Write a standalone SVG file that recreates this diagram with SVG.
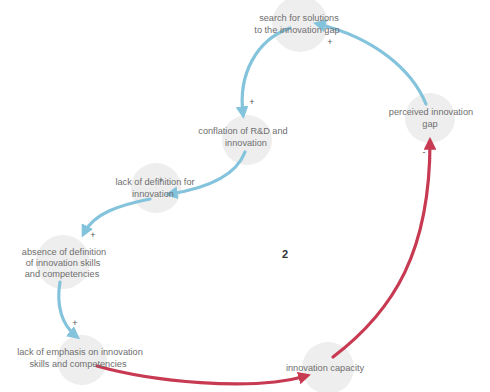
<svg xmlns="http://www.w3.org/2000/svg" width="490" height="392" viewBox="0 0 490 392">
  <defs>
    <style>
      .node circle { fill: #eeeeee; }
      .lbl { font-family: "Liberation Sans", Arial, sans-serif; font-size: 9.2px; fill: #6e6e6e; text-anchor: middle; }
      .sign { font-family: "Liberation Sans", Arial, sans-serif; font-size: 9px; fill: #555; text-anchor: middle; }
      .pos { fill: none; stroke: #84c3dc; stroke-width: 3.2; stroke-linecap: round; }
      .neg { fill: none; stroke: #c73a52; stroke-width: 3.2; stroke-linecap: round; }
    </style>
    <marker id="arrowPos" viewBox="0 0 10 10" refX="6" refY="5" markerWidth="4" markerHeight="4" orient="auto">
      <path d="M0,0 L10,5 L0,10 Z" fill="#84c3dc"/>
    </marker>
    <marker id="arrowNeg" viewBox="0 0 10 10" refX="6" refY="5" markerWidth="4" markerHeight="4" orient="auto">
      <path d="M0,0 L10,5 L0,10 Z" fill="#c73a52"/>
    </marker>
  </defs>

  <rect width="490" height="392" fill="#ffffff"/>

  <!-- node backdrops -->
  <g id="search" class="node"><circle cx="300" cy="24" r="28"/></g>
  <g id="perceived" class="node"><circle cx="430" cy="118" r="25"/></g>
  <g id="conflation" class="node"><circle cx="247" cy="140" r="25"/></g>
  <g id="lackdef" class="node"><circle cx="156" cy="188" r="25"/></g>
  <g id="absence" class="node"><circle cx="63" cy="262" r="27"/></g>
  <g id="emphasis" class="node"><circle cx="82" cy="360" r="25"/></g>
  <g id="capacity" class="node"><circle cx="328" cy="368" r="26"/></g>

  <!-- connectors -->
  <g id="connectors">
    <path class="pos" d="M426,104 C412,70 375,38 318,24" marker-end="url(#arrowPos)"/>
    <path class="pos" d="M290,28 C256,40 238,75 243,114" marker-end="url(#arrowPos)"/>
    <path class="pos" d="M245,152 C236,176 208,188 170,194" marker-end="url(#arrowPos)"/>
    <path class="pos" d="M150,199 C120,205 94,213 84,233" marker-end="url(#arrowPos)"/>
    <path class="pos" d="M60,282 C56,306 62,325 76,336" marker-end="url(#arrowPos)"/>
    <path class="neg" d="M97,366 C150,381 250,392 306,376" marker-end="url(#arrowNeg)"/>
    <path class="neg" d="M333,357 C395,310 430,250 430,142" marker-end="url(#arrowNeg)"/>
    <text class="sign" x="330" y="45">+</text>
    <text class="sign" x="252" y="105">+</text>
    <text class="sign" x="161" y="183">+</text>
    <text class="sign" x="93" y="238">+</text>
    <text class="sign" x="75" y="326">+</text>
    <text class="sign" x="424" y="155">-</text>
  </g>

  <!-- labels -->
  <g class="lbl">
    <text x="299" y="21">search for solutions</text>
    <text x="297" y="33">to the innovation gap</text>
    <text x="431" y="115">perceived innovation</text>
    <text x="430" y="127">gap</text>
    <text x="243" y="134">conflation of R&amp;D and</text>
    <text x="246" y="146">innovation</text>
    <text x="155" y="185">lack of definition for</text>
    <text x="153" y="197">innovation</text>
    <text x="64" y="255">absence of definition</text>
    <text x="63" y="266">of innovation skills</text>
    <text x="62" y="277">and competencies</text>
    <text x="80" y="355">lack of emphasis on innovation</text>
    <text x="78" y="367">skills and competencies</text>
    <text x="325" y="371">innovation capacity</text>
  </g>

  <text x="285" y="258" font-family="Liberation Sans, Arial, sans-serif" font-size="11" font-weight="bold" fill="#333" text-anchor="middle">2</text>
</svg>
